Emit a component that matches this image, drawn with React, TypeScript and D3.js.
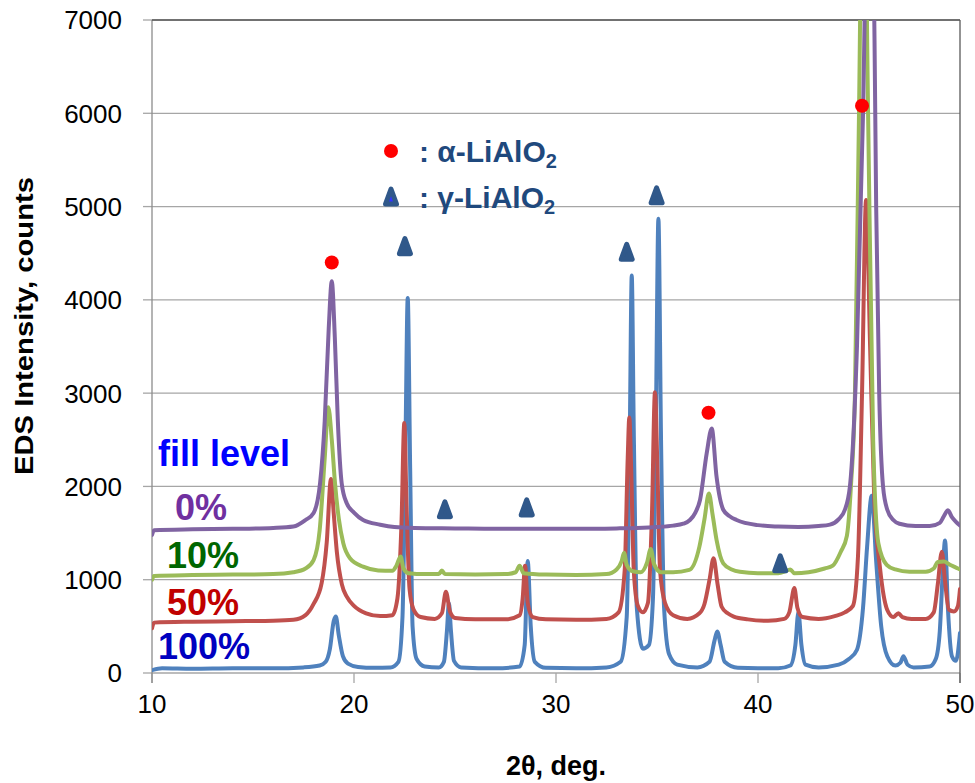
import React from "react";
import * as d3 from "d3";

// ---- data ----
const fill0: [number, number][] = [
  [10.0, 1480], [10.1, 1530], [12, 1540], [14, 1545], [16, 1555], [17.0, 1570], [17.6, 1640],
  [18.0, 1715], [18.32, 2035], [18.55, 2700], [18.75, 3700], [18.9, 4200], [19.05, 3600],
  [19.2, 2700], [19.39, 2035], [19.64, 1820], [20.0, 1720], [20.45, 1640], [21.3, 1590],
  [22, 1565], [23, 1555], [25, 1550], [27, 1545], [29, 1545], [31, 1545], [33, 1550], [34, 1555],
  [35, 1565], [35.8, 1580], [36.3, 1600], [36.63, 1640], [36.9, 1720], [37.13, 1855],
  [37.46, 2355], [37.71, 2620], [37.95, 2100], [38.28, 1750], [38.6, 1680], [38.94, 1640],
  [40.0, 1585], [41, 1570], [42, 1565], [43, 1575], [43.56, 1590], [44.0, 1650], [44.3, 1750],
  [44.55, 2000], [44.9, 3500], [45.2, 6000], [45.5, 9500], [45.65, 9000], [45.85, 5000],
  [46.0, 3000], [46.19, 2000], [46.4, 1750], [46.7, 1640], [47.0, 1600], [47.8, 1575],
  [48.5, 1575], [49.0, 1610], [49.2, 1680], [49.4, 1745], [49.6, 1670], [49.8, 1620], [50.0, 1580],
];

const fill10: [number, number][] = [
  [10.0, 1000], [10.1, 1040], [12, 1050], [14, 1055], [16, 1060], [17.0, 1080], [17.6, 1120],
  [18.0, 1210], [18.3, 1530], [18.55, 2300], [18.73, 2850], [18.9, 2500], [19.06, 2035],
  [19.25, 1650], [19.47, 1390], [19.8, 1230], [20.45, 1140], [21.2, 1100], [21.9, 1095],
  [22.1, 1150], [22.31, 1250], [22.45, 1120], [22.7, 1070], [23.5, 1060], [24.2, 1060],
  [24.35, 1100], [24.5, 1060], [26, 1055], [27.5, 1060], [28.0, 1080], [28.2, 1150],
  [28.4, 1070], [29.5, 1055], [31, 1050], [32.5, 1060], [33.0, 1110], [33.25, 1200],
  [33.37, 1290], [33.5, 1160], [33.8, 1090], [34.2, 1080], [34.5, 1180], [34.69, 1330],
  [34.85, 1170], [35.2, 1080], [35.8, 1080], [36.6, 1105], [37.1, 1355], [37.35, 1650],
  [37.57, 1925], [37.75, 1700], [37.95, 1425], [38.28, 1175], [38.7, 1110], [39.1, 1085],
  [40, 1070], [41.0, 1070], [41.45, 1100], [41.6, 1110], [41.8, 1070], [42.5, 1080],
  [43.3, 1120], [43.7, 1150], [44.1, 1300], [44.4, 1470], [44.6, 2000], [44.8, 3000],
  [45.0, 6000], [45.22, 9500], [45.45, 6000], [45.7, 2500], [45.96, 1390], [46.37, 1160],
  [46.8, 1110], [47.5, 1085], [48.3, 1085], [48.7, 1120], [48.9, 1190], [49.2, 1195],
  [49.5, 1160], [49.8, 1130], [50.0, 1110],
];

const fill50: [number, number][] = [
  [10.0, 480], [10.1, 540], [12, 550], [14, 555], [16, 560], [17.0, 570], [17.6, 620],
  [18.0, 740], [18.4, 965], [18.65, 1400], [18.86, 2080], [19.0, 1700], [19.15, 1300],
  [19.4, 950], [19.65, 815], [20.0, 720], [20.6, 640], [21.3, 610], [21.9, 620], [22.15, 800],
  [22.35, 1600], [22.49, 2680], [22.6, 1800], [22.75, 900], [22.95, 680], [23.3, 600],
  [24.0, 580], [24.35, 640], [24.55, 870], [24.75, 660], [25.0, 590], [26, 575], [27.5, 575],
  [28.2, 620], [28.35, 800], [28.47, 1150], [28.6, 750], [28.85, 600], [29.5, 575], [31, 570],
  [32.5, 580], [33.1, 650], [33.4, 1100], [33.55, 2300], [33.63, 2740], [33.72, 2200],
  [33.85, 1100], [34.05, 720], [34.3, 650], [34.55, 750], [34.75, 1700], [34.9, 3010],
  [35.02, 2200], [35.15, 1100], [35.4, 750], [35.8, 620], [36.5, 580], [37.1, 640],
  [37.35, 740], [37.6, 1000], [37.8, 1230], [38.0, 950], [38.2, 710], [38.5, 640],
  [38.8, 605], [39.5, 575], [40.5, 560], [41.3, 580], [41.55, 650], [41.8, 910], [41.95, 700],
  [42.2, 600], [43, 580], [43.8, 610], [44.3, 650], [44.7, 720], [44.95, 1250], [45.15, 3000],
  [45.35, 5070], [45.55, 3500], [45.75, 1900], [46.04, 1125], [46.4, 675], [46.7, 600],
  [46.95, 640], [47.15, 600], [47.6, 580], [48.3, 580], [48.7, 650], [48.9, 950], [49.1, 1300],
  [49.25, 1000], [49.45, 680], [49.7, 660], [49.9, 720], [50.0, 900],
];

const fill100: [number, number][] = [
  [10.0, 30], [10.5, 50], [12, 45], [14, 50], [16, 50], [17.5, 60], [18.3, 80], [18.6, 120],
  [18.8, 250], [19.0, 560], [19.1, 605], [19.25, 400], [19.45, 180], [19.7, 100], [20.2, 65],
  [21, 55], [21.8, 60], [22.2, 120], [22.4, 600], [22.55, 2500], [22.66, 4020], [22.78, 2200],
  [22.9, 500], [23.1, 150], [23.5, 70], [24.2, 60], [24.45, 120], [24.6, 450], [24.7, 750],
  [24.8, 450], [24.95, 130], [25.3, 60], [27, 50], [28.2, 70], [28.45, 300], [28.6, 1200],
  [28.75, 500], [28.95, 120], [29.5, 55], [31, 50], [32.5, 60], [33.2, 120], [33.5, 600],
  [33.65, 2500], [33.75, 4260], [33.85, 2600], [34.0, 700], [34.3, 260], [34.6, 300],
  [34.8, 800], [34.95, 2800], [35.07, 4870], [35.2, 2500], [35.35, 700], [35.6, 200], [36, 90],
  [37, 60], [37.6, 120], [37.85, 350], [37.98, 445], [38.15, 300], [38.35, 120], [39, 55],
  [40, 50], [41, 50], [41.6, 80], [41.85, 300], [42.0, 650], [42.15, 300], [42.35, 90],
  [43, 60], [44, 90], [44.5, 150], [44.9, 250], [45.2, 700], [45.4, 1350], [45.63, 1900],
  [45.85, 1200], [46.1, 500], [46.4, 180], [46.8, 80], [47.05, 110], [47.2, 180], [47.4, 90],
  [47.7, 60], [48.5, 70], [48.8, 150], [49.0, 450], [49.15, 1100], [49.26, 1420], [49.4, 700],
  [49.6, 180], [49.8, 130], [50.0, 430],
];

const alphaMarks: [number, number][] = [[18.9, 4400], [37.55, 2790], [45.15, 6080]];
const gammaMarks: [number, number][] = [
  [22.52, 4570], [24.5, 1750], [28.55, 1770], [33.5, 4510], [34.98, 5115], [41.1, 1170],
];

const xTicks = [10, 20, 30, 40, 50];
const yTicks = [0, 1000, 2000, 3000, 4000, 5000, 6000, 7000];

const seriesLabels = ["0%", "10%", "50%", "100%"];

// ---- layout ----
const W = 975, H = 783;
const L = 152, R = 960, T = 20, B = 673;

const xs = d3.scaleLinear().domain([10, 50]).range([L, R]);
const ys = d3.scaleLinear().domain([0, 7000]).range([B, T]);

const line = d3.line<[number, number]>().x(d => xs(d[0])).y(d => ys(d[1])).curve(d3.curveMonotoneX);

const series = [
  { data: fill100, color: "#4F81BD" },
  { data: fill50, color: "#C0504D" },
  { data: fill10, color: "#9BBB59" },
  { data: fill0, color: "#8064A2" },
];

const labelColors = ["#7030A0", "#006600", "#C00000", "#0000C0"];
const labelPos = [
  { x: 175, y: 520 },
  { x: 167, y: 568 },
  { x: 167, y: 615 },
  { x: 158, y: 659 },
];

const triPath = (cx: number, cy: number) =>
  `M${cx},${cy - 8} L${cx + 5.5},${cy + 7} L${cx - 5.5},${cy + 7} Z`;

const FONT = "'Liberation Sans', Arial, sans-serif";

export default function App() {
  return (
    <svg width={W} height={H} style={{ position: "absolute", left: 0, top: 0, background: "#fff" }}
      fontFamily={FONT}>
      <defs>
        <clipPath id="plot">
          <rect x={L} y={T} width={R - L} height={B - T} />
        </clipPath>
      </defs>
      <rect x={0} y={0} width={W} height={H} fill="#fff" />
      {/* gridlines */}
      {yTicks.map(t => (
        <line key={t} x1={L} x2={R} y1={ys(t)} y2={ys(t)} stroke="#A6A6A6" strokeWidth={1.3} />
      ))}
      {/* y ticks */}
      {yTicks.map(t => (
        <line key={"yt" + t} x1={L - 9} x2={L} y1={ys(t)} y2={ys(t)} stroke="#A6A6A6" strokeWidth={1.3} />
      ))}
      {/* x ticks */}
      {xTicks.map(t => (
        <line key={"xt" + t} x1={xs(t)} x2={xs(t)} y1={B} y2={B + 10} stroke="#A6A6A6" strokeWidth={1.3} />
      ))}
      {/* axes / border */}
      <line x1={L} x2={L} y1={T} y2={B + 10} stroke="#8C8C8C" strokeWidth={1.3} />
      <line x1={L} x2={R} y1={T} y2={T} stroke="#595959" strokeWidth={1.3} />
      <line x1={R} x2={R} y1={T} y2={B + 10} stroke="#595959" strokeWidth={1.3} />

      {/* series */}
      <g clipPath="url(#plot)">
        {series.map((s, i) => (
          <path key={i} d={line(s.data) || ""} fill="none" stroke={s.color} strokeWidth={4}
            strokeLinejoin="round" strokeLinecap="round" />
        ))}
      </g>

      {/* markers */}
      {alphaMarks.map((m, i) => (
        <circle key={"a" + i} cx={xs(m[0])} cy={ys(m[1])} r={7} fill="#FF0000" />
      ))}
      {gammaMarks.map((m, i) => (
        <path key={"g" + i} d={triPath(xs(m[0]), ys(m[1]))} fill="#30588A" stroke="#30588A"
          strokeWidth={5} strokeLinejoin="round" />
      ))}

      {/* y tick labels */}
      {yTicks.map(t => (
        <text key={"yl" + t} x={122} y={ys(t)} dy="0.36em" textAnchor="end" fontSize={26} fill="#000">
          {t}
        </text>
      ))}
      {/* x tick labels */}
      {xTicks.map(t => (
        <text key={"xl" + t} x={xs(t)} y={704} dy="0.36em" textAnchor="middle" fontSize={26} fill="#000">
          {t}
        </text>
      ))}

      {/* axis titles */}
      <text x={556} y={775} textAnchor="middle" fontSize={27} fontWeight="bold" fill="#000">
        2θ, deg.
      </text>
      <text transform="translate(33,326) rotate(-90)" textAnchor="middle" fontSize={25}
        fontWeight="bold" fill="#000" textLength={298} lengthAdjust="spacingAndGlyphs">
        EDS Intensity, counts
      </text>

      {/* legend of phases */}
      <circle cx={391} cy={151} r={7} fill="#FF0000" />
      <text x={419} y={162} fontSize={30} fontWeight="bold" fill="#1F497D">
        : α-LiAlO<tspan fontSize={20} dy={6}>2</tspan>
      </text>
      <path d={triPath(391, 197)} fill="#3333FF" stroke="#30588A" strokeWidth={5} strokeLinejoin="round" />
      <text x={419} y={208} fontSize={30} fontWeight="bold" fill="#1F497D">
        : γ-LiAlO<tspan fontSize={20} dy={6}>2</tspan>
      </text>

      {/* fill level labels */}
      <text x={158} y={466} fontSize={36} fontWeight="bold" fill="#0000FF">fill level</text>
      {seriesLabels.map((s, i) => (
        <text key={s} x={labelPos[i].x} y={labelPos[i].y} fontSize={36} fontWeight="bold" fill={labelColors[i]}>
          {s}
        </text>
      ))}
    </svg>
  );
}
